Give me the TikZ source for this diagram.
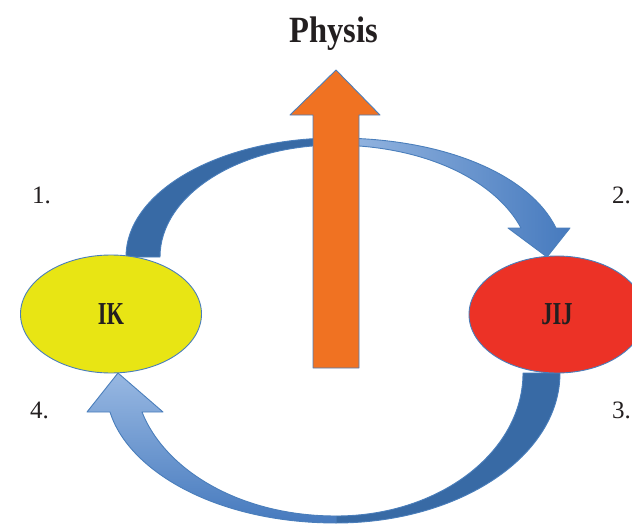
\documentclass[tikz,border=0pt]{standalone}
\usepackage{fontspec}
\setmainfont{Liberation Serif}
\newfontfamily\titlefont[FakeStretch=0.88]{Liberation Serif Bold}
\newfontfamily\condfont[FakeStretch=0.7]{Liberation Serif Bold}
\usetikzlibrary{shapes.geometric}
\definecolor{edgeblue}{RGB}{74,126,187}
\definecolor{darkband}{RGB}{56,106,165}
\definecolor{lightband}{RGB}{152,184,226}
\definecolor{midband}{RGB}{70,122,190}
\definecolor{ikyellow}{RGB}{232,229,20}
\definecolor{jijred}{RGB}{236,50,38}
\definecolor{physorange}{RGB}{240,114,34}
\definecolor{ink}{RGB}{35,31,32}
\tikzset{
  outline/.style={draw=edgeblue, line width=0.9pt, line join=round},
  oval/.style={ellipse, outline, inner sep=0pt, text=ink,
    font=\condfont\fontsize{32}{34}\selectfont},
  numlabel/.style={anchor=base west, inner sep=0pt, text=ink,
    font=\fontsize{25}{27}\selectfont},
}
\begin{document}
\begin{tikzpicture}[x=1pt,y=-1pt]
\useasboundingbox (0,0) rectangle (632,527);
\clip (0,0) rectangle (632,527);

% title
\node[anchor=base, inner sep=0pt, text=ink,
  font=\titlefont\fontsize{37}{40}\selectfont] (title) at (334,43) {Physis};

% step numbers
\node[numlabel] (n1) at (32,203) {1.};
\node[numlabel] (n2) at (612,203) {2.};
\node[numlabel] (n3) at (612,418) {3.};
\node[numlabel] (n4) at (30,418) {4.};

% top curved arrow: back piece (dark)
\fill[darkband, outline] (126,257)
  arc[start angle=180, end angle=270, x radius=210, y radius=119]
  -- (336,145)
  arc[start angle=270, end angle=180, x radius=176, y radius=112]
  -- cycle;
% top curved arrow: front piece with head
\shadedraw[left color=lightband, right color=midband, outline]
  (336,138) .. controls (445,138) and (530,175) .. (556,228)
  -- (570,228) -- (547,257) -- (508,228) -- (521,228)
  .. controls (497,183) and (430,146) .. (336,145) -- cycle;

% bottom curved arrow: back piece (dark)
\fill[darkband, outline] (560,373)
  arc[start angle=0, end angle=90, x radius=224, y radius=150]
  -- (336,516)
  arc[start angle=90, end angle=0, x radius=187, y radius=143]
  -- cycle;
% bottom curved arrow: front piece with head
\shadedraw[top color=lightband, bottom color=midband, outline]
  (336,523) .. controls (215,523) and (128,470) .. (110,412)
  -- (87,412) -- (118,373) -- (163,412) -- (142,412)
  .. controls (165,470) and (240,516) .. (336,516) -- cycle;

% orange up arrow
\filldraw[fill=physorange, outline]
  (313,368) -- (313,115) -- (290,115) -- (336,70) -- (380,115)
  -- (359,115) -- (359,368) -- cycle;

% ellipses
\node[oval, fill=ikyellow, minimum width=181pt, minimum height=118pt]
  (ik) at (111,314) {IK};
\node[oval, fill=jijred, minimum width=176pt, minimum height=117pt]
  (jij) at (557,314.5) {JIJ};
\end{tikzpicture}
\end{document}
